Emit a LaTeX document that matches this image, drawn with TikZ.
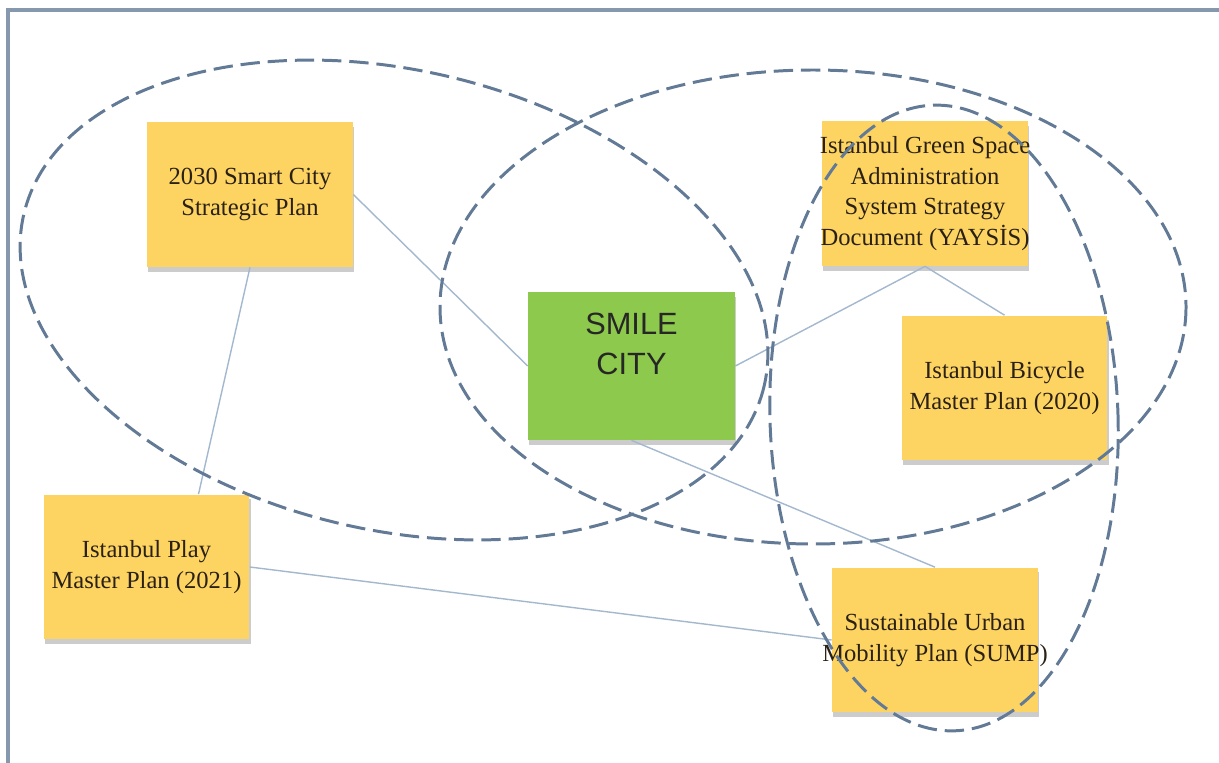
\documentclass[tikz,border=0pt]{standalone}
\usepackage{fontspec}
\setmainfont{Liberation Serif}
\newfontfamily\smilefont{Liberation Sans}
\usepackage{xcolor}
\usetikzlibrary{positioning,calc,shadows}
\definecolor{planyellow}{HTML}{FDD462}
\definecolor{smilegreen}{HTML}{8DC94C}
\definecolor{ringblue}{HTML}{627A96}
\definecolor{linkblue}{HTML}{A3B8CE}
\definecolor{framegray}{HTML}{8598AD}
\definecolor{inkbrown}{HTML}{2A2014}
\tikzset{
  plan/.style={fill=planyellow, align=center, inner sep=0pt, minimum width=4.12cm, minimum height=2.9cm, text=inkbrown, font=\fontsize{14}{17.5}\selectfont, drop shadow={shadow xshift=0.6pt, shadow yshift=-2.6pt, opacity=0.25, fill=black!80}},
  hub/.style={plan, fill=smilegreen, minimum width=4.14cm, minimum height=2.96cm},
  hubtext/.style={align=center, inner sep=0pt, font=\smilefont\fontsize{17.5}{22.7}\selectfont, text=black!85},
  link/.style={draw=linkblue, line width=0.8pt},
  ring/.style={draw=ringblue, line width=1.7pt, dash pattern=on 11pt off 4.5pt},
}

\begin{document}
\begin{tikzpicture}[x=0.02cm, y=-0.02cm]
  \useasboundingbox (0,0) rectangle (1219,763);
  \draw[framegray, line width=2pt] (8,763) -- (8,10) -- (1219,10);

  \node[plan] (smart) at (250,194.5) {2030 Smart City\\Strategic Plan};
  \node[plan, inner xsep=-5pt] (green) at (925,193.5) {Istanbul Green Space\\Administration\\System Strategy\\Document (YAYSİS)};
  \node[plan] (bicycle) at (1004.5,388) {Istanbul Bicycle\\Master Plan (2020)};
  \node[hub] (smile) at (631.5,366) {};
  \node[hubtext, below=0.42cm of smile.north] (smiletext) {SMILE\\CITY};
  \node[plan] (play) at (146.5,567) {Istanbul Play\\Master Plan (2021)};
  \node[plan, inner xsep=-8pt] (sump) at (935,640) {Sustainable Urban\\Mobility Plan (SUMP)};

  \draw[link] (smart.east) -- (smile.west);
  \draw[link] (smart.south) -- ($(play.north)+(52,0)$);
  \draw[link] (play.east) -- (sump.west);
  \draw[link] (smile.south) -- (sump.north);
  \draw[link] (smile.east) -- (green.south);
  \draw[link] (green.south) -- (bicycle.north);

  \draw[ring, rotate around={-13:(394,300)}] (394,300) ellipse [x radius=380, y radius=230];
  \draw[ring] (813,307) ellipse [x radius=373, y radius=237];
  \draw[ring, rotate around={2:(944,418)}] (944,418) ellipse [x radius=174, y radius=313];
\end{tikzpicture}
\end{document}
